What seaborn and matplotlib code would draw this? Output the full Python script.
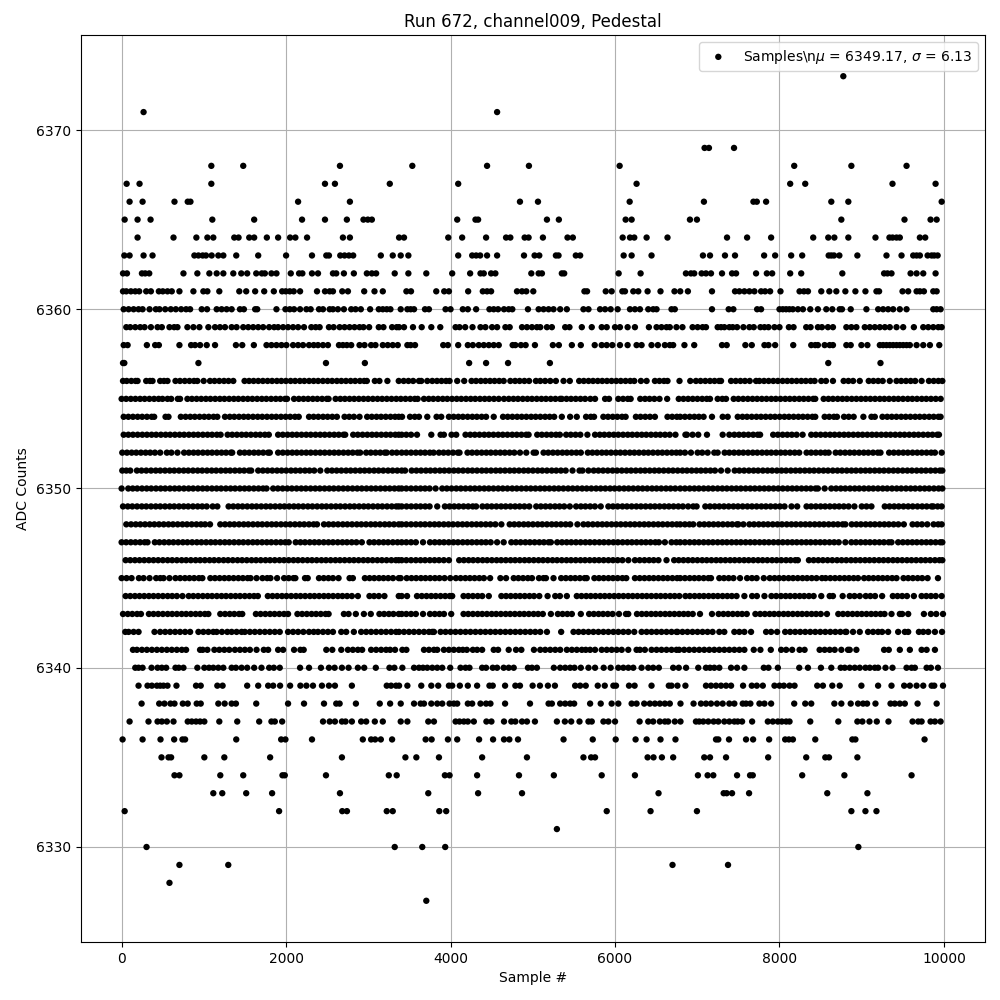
import matplotlib
matplotlib.use("Agg")
import matplotlib.pyplot as plt
import pandas as pd
import seaborn as sns

# Sample numbers, one list per ADC level.
# Inside the solid bands single samples cannot be told apart, so those lists
# hold estimated positions that reproduce the visible runs and gaps.
x_6373 = [8776]
x_6371 = [267, 4566]
x_6369 = [7089, 7142, 7447]
x_6368 = [1091, 1479, 2655, 3535, 4444, 4953, 6056, 8179, 8874, 9545]
x_6367 = [61, 218, 1091, 2473, 2594, 3261, 4093, 6262, 8130, 8313, 9374, 9898]
x_6366 = [97, 255, 643, 804, 837, 2146, 2776, 4844, 5063, 6178, 7081, 7683, 7724, 7837, 8630, 8837, 9972]
x_6365 = [37, 194, 352, 1103, 1612, 2194, 2473, 2739, 2941, 2994, 3043, 4081, 4303, 4335, 5172, 5317, 6129, 6202, 6911, 6996, 8752, 9520, 9837, 9911]
x_6364 = [194, 631, 909, 1043, 1115, 1370, 1422, 1552, 1612, 1766, 1903, 2049, 2113, 2255, 2691, 2776, 3374, 3434, 3972, 4141, 4432, 4675, 4727, 4901, 4949, 5123, 5422, 5487, 6093, 6182, 6234, 6384, 6638, 7362, 7606, 7898, 8410, 8593, 8667, 8837, 9167, 9337, 9375, 9423, 9463, 9707, 9772]
x_6363 = [33, 97, 267, 376, 885, 934, 986, 1026, 1095, 1176, 1237, 1394, 1661, 2000, 2315, 2489, 2521, 2659, 2711, 2764, 2816, 3152, 3297, 3394, 3487, 4093, 4263, 4311, 4360, 4444, 4566, 4893, 5022, 5079, 5281, 5313, 5523, 5576, 6105, 6202, 6444, 7069, 7155, 7337, 7459, 7813, 7947, 8142, 8276, 8598, 8630, 8663, 8728, 8947, 9301, 9484, 9626, 9667, 9707, 9801, 9850, 9882, 9923]
x_6362 = [17, 65, 247, 287, 336, 752, 921, 1067, 1156, 1237, 1358, 1455, 1527, 1637, 1705, 1742, 1822, 1883, 2057, 2158, 2198, 2315, 2388, 2570, 2610, 2703, 2824, 2982, 3043, 3095, 3321, 3487, 3705, 4020, 4238, 4364, 4404, 4493, 4545, 4982, 5071, 5111, 5353, 5382, 6044, 6311, 6862, 6923, 6963, 7053, 7106, 7167, 7301, 7423, 7472, 7715, 7846, 7911, 8130, 8264, 8764, 9272, 9313, 9362, 9594, 9667, 9748, 9898]
x_6361 = [17, 57, 113, 166, 214, 299, 356, 453, 501, 558, 610, 703, 873, 994, 1043, 1188, 1431, 1515, 1624, 1734, 1851, 1952, 1996, 2045, 2093, 2170, 2376, 2473, 2530, 2570, 2683, 2752, 2950, 3075, 3176, 3463, 3519, 3826, 3923, 3980, 4214, 4392, 4444, 4493, 4808, 4869, 4921, 5006, 5628, 5660, 5887, 5959, 6089, 6121, 6222, 6283, 6396, 6553, 6723, 6793, 6886, 7179, 7459, 7512, 7573, 7634, 7695, 7776, 7825, 7886, 8012, 8244, 8297, 8346, 8508, 8606, 8691, 8801, 8923, 9045, 9179, 9211, 9496, 9565, 9667, 9707, 9756, 9870, 9911]
x_6360 = [25, 85, 146, 206, 255, 340, 416, 461, 530, 598, 659, 724, 784, 833, 974, 1039, 1156, 1216, 1277, 1338, 1439, 1487, 1624, 1649, 1883, 1992, 2045, 2097, 2170, 2247, 2299, 2400, 2449, 2530, 2570, 2630, 2703, 2792, 2845, 2909, 3022, 3127, 3176, 3224, 3269, 3394, 3475, 3515, 3556, 3689, 3737, 3939, 4000, 4149, 4210, 4311, 4473, 4525, 4578, 4650, 4707, 4751, 4941, 5071, 5131, 5192, 5252, 5333, 5414, 5616, 5677, 5818, 5879, 5947, 6032, 6182, 6242, 6303, 6404, 6464, 6505, 6687, 6727, 7179, 7382, 7439, 7728, 7776, 8000, 8040, 8080, 8120, 8162, 8224, 8285, 8374, 8467, 8569, 8642, 8732, 8760, 8866, 9057, 9200, 9260, 9321, 9382, 9463, 9545, 9870, 9911, 9959]
x_6359 = [57, 105, 166, 226, 279, 356, 437, 489, 582, 639, 679, 800, 873, 946, 1055, 1136, 1196, 1257, 1338, 1398, 1479, 1540, 1600, 1661, 1721, 1794, 1855, 1903, 1964, 2024, 2085, 2146, 2218, 2307, 2360, 2408, 2521, 2578, 2651, 2711, 2772, 2832, 2893, 2941, 3010, 3127, 3184, 3289, 3345, 3374, 3434, 3543, 3649, 3766, 3875, 4061, 4109, 4178, 4267, 4364, 4424, 4505, 4566, 4667, 4719, 4869, 4929, 4990, 5050, 5091, 5172, 5232, 5394, 5446, 5596, 5717, 5838, 5899, 6000, 6060, 6153, 6242, 6412, 6505, 6565, 6626, 6666, 6747, 6820, 6943, 7004, 7065, 7106, 7248, 7289, 7330, 7390, 7431, 7484, 7561, 7634, 7687, 7768, 7817, 7866, 7939, 8000, 8114, 8171, 8325, 8378, 8467, 8516, 8589, 8650, 8813, 8874, 8935, 9037, 9098, 9159, 9220, 9281, 9341, 9423, 9504, 9634, 9748, 9809, 9870, 9931, 9972]
x_6358 = [25, 73, 307, 408, 453, 703, 845, 893, 954, 1035, 1136, 1390, 1467, 1608, 1762, 1822, 1883, 1944, 2004, 2085, 2146, 2206, 2279, 2336, 2388, 2449, 2509, 2643, 2691, 2739, 2792, 2893, 2954, 3034, 3087, 3176, 3236, 3297, 3358, 3475, 3515, 3568, 3911, 3968, 4093, 4210, 4271, 4343, 4404, 4465, 4525, 4586, 4755, 4788, 4856, 4913, 5026, 5244, 5317, 5475, 5584, 5753, 5838, 5899, 5967, 6060, 6153, 6262, 6323, 6444, 6521, 6606, 6666, 6707, 6844, 6963, 7301, 7358, 7585, 7663, 7817, 7866, 7947, 8167, 8386, 8435, 8467, 8549, 8610, 8650, 8813, 8866, 8996, 9069, 9220, 9260, 9301, 9341, 9382, 9423, 9463, 9504, 9545, 9585, 9667, 9748, 9829, 9943]
x_6357 = [17, 33, 934, 2485, 2958, 4226, 4432, 4699, 5208, 8593, 9228]
x_6356 = [17, 62, 118, 170, 194, 299, 345, 376, 469, 515, 558, 655, 710, 768, 825, 880, 921, 998, 1075, 1130, 1188, 1245, 1300, 1358, 1495, 1550, 1605, 1662, 1718, 1775, 1830, 1888, 1942, 1998, 2055, 2110, 2168, 2222, 2280, 2335, 2390, 2448, 2505, 2560, 2618, 2672, 2728, 2785, 2840, 2898, 2950, 2982, 3079, 3135, 3232, 3370, 3430, 3488, 3545, 3616, 3644, 3717, 3778, 3835, 3890, 3945, 3988, 4081, 4166, 4255, 4310, 4368, 4424, 4480, 4535, 4592, 4646, 4727, 4785, 4840, 4898, 4955, 5038, 5091, 5150, 5212, 5281, 5374, 5450, 5564, 5620, 5678, 5733, 5790, 5845, 5902, 5958, 6015, 6070, 6128, 6185, 6234, 6315, 6384, 6485, 6540, 6595, 6638, 6784, 6915, 6984, 7040, 7098, 7155, 7210, 7265, 7289, 7411, 7468, 7525, 7580, 7638, 7715, 7756, 7812, 7868, 7925, 7980, 8038, 8095, 8150, 8208, 8265, 8320, 8378, 8427, 8508, 8565, 8650, 8780, 8838, 8895, 8976, 9085, 9142, 9200, 9255, 9341, 9423, 9480, 9538, 9595, 9650, 9728, 9817, 9875, 9932, 9980]
x_6355 = [0, 55, 112, 168, 225, 280, 338, 395, 450, 497, 558, 603, 683, 711, 800, 855, 912, 968, 1025, 1080, 1138, 1195, 1250, 1308, 1365, 1420, 1478, 1534, 1590, 1648, 1705, 1760, 1818, 1875, 1930, 1988, 2012, 2097, 2155, 2212, 2268, 2325, 2380, 2438, 2495, 2517, 2602, 2660, 2715, 2772, 2828, 2885, 2942, 2998, 3055, 3112, 3168, 3225, 3282, 3340, 3395, 3452, 3510, 3565, 3600, 3677, 3735, 3790, 3848, 3905, 3960, 4018, 4075, 4130, 4188, 4245, 4300, 4358, 4415, 4470, 4528, 4586, 4650, 4708, 4765, 4820, 4878, 4935, 4990, 5048, 5105, 5160, 5218, 5275, 5333, 5353, 5410, 5465, 5522, 5580, 5636, 5700, 5757, 5879, 5927, 6040, 6098, 6155, 6190, 6307, 6365, 6420, 6478, 6541, 6634, 6775, 6832, 6889, 6945, 7002, 7060, 7115, 7155, 7248, 7305, 7350, 7443, 7500, 7558, 7615, 7672, 7728, 7785, 7842, 7900, 7955, 8012, 8070, 8125, 8182, 8240, 8295, 8352, 8410, 8435, 8537, 8595, 8650, 8708, 8765, 8820, 8878, 8935, 8992, 9048, 9105, 9162, 9220, 9275, 9332, 9390, 9445, 9502, 9560, 9615, 9672, 9730, 9785, 9842, 9900, 9960]
x_6354 = [25, 82, 138, 195, 250, 308, 365, 396, 534, 570, 720, 778, 835, 890, 948, 1005, 1060, 1118, 1164, 1257, 1315, 1370, 1428, 1485, 1540, 1598, 1655, 1710, 1768, 1825, 1880, 1938, 1995, 2050, 2108, 2154, 2279, 2335, 2392, 2450, 2505, 2562, 2618, 2711, 2768, 2825, 2893, 2986, 3042, 3100, 3155, 3212, 3270, 3325, 3370, 3410, 3507, 3565, 3616, 3717, 3830, 3887, 3980, 4038, 4095, 4150, 4208, 4265, 4320, 4378, 4432, 4525, 4638, 4695, 4752, 4810, 4865, 4922, 4980, 5035, 5092, 5150, 5205, 5260, 5353, 5454, 5535, 5648, 5705, 5745, 5858, 5915, 5972, 6028, 6085, 6129, 6254, 6310, 6368, 6425, 6485, 6638, 6695, 6752, 6793, 6850, 6908, 6965, 7020, 7077, 7179, 7309, 7370, 7492, 7550, 7605, 7662, 7720, 7775, 7832, 7890, 7945, 8002, 8060, 8115, 8172, 8230, 8285, 8342, 8400, 8435, 8549, 8605, 8662, 8699, 8785, 8842, 8902, 9020, 9118, 9159, 9252, 9310, 9365, 9422, 9480, 9535, 9592, 9650, 9705, 9762, 9820, 9875, 9932, 9959]
x_6353 = [25, 82, 138, 195, 252, 308, 365, 420, 478, 535, 590, 648, 705, 760, 818, 875, 930, 988, 1045, 1100, 1158, 1204, 1289, 1345, 1402, 1460, 1515, 1572, 1630, 1685, 1742, 1790, 1903, 1960, 2018, 2075, 2130, 2188, 2245, 2300, 2358, 2415, 2470, 2528, 2585, 2640, 2698, 2719, 2816, 2872, 2930, 2988, 3045, 3100, 3158, 3215, 3270, 3328, 3370, 3406, 3462, 3520, 3592, 3766, 3879, 3919, 4012, 4069, 4182, 4240, 4295, 4352, 4410, 4465, 4522, 4580, 4635, 4692, 4750, 4805, 4862, 4920, 4949, 5054, 5110, 5168, 5225, 5282, 5329, 5406, 5462, 5520, 5578, 5664, 5757, 5815, 5870, 5928, 5985, 6040, 6098, 6155, 6210, 6268, 6325, 6380, 6438, 6495, 6550, 6608, 6665, 6735, 6856, 6874, 6943, 7012, 7118, 7309, 7390, 7451, 7508, 7565, 7622, 7680, 7735, 7764, 7923, 7980, 8038, 8095, 8150, 8208, 8281, 8386, 8442, 8500, 8558, 8615, 8670, 8728, 8785, 8840, 8898, 8955, 9010, 9068, 9125, 9180, 9238, 9295, 9350, 9408, 9465, 9520, 9578, 9635, 9690, 9748, 9805, 9860, 9918, 9939]
x_6352 = [8, 65, 122, 178, 235, 292, 348, 405, 469, 550, 605, 679, 760, 818, 875, 930, 988, 1045, 1100, 1158, 1215, 1270, 1328, 1345, 1439, 1495, 1552, 1610, 1665, 1722, 1780, 1802, 1903, 1960, 2018, 2075, 2130, 2188, 2245, 2300, 2358, 2415, 2470, 2528, 2585, 2640, 2698, 2755, 2810, 2868, 2901, 2974, 3030, 3088, 3145, 3200, 3224, 3289, 3345, 3406, 3462, 3520, 3578, 3635, 3690, 3748, 3794, 3859, 3915, 3972, 4030, 4088, 4109, 4206, 4262, 4320, 4378, 4435, 4490, 4548, 4605, 4660, 4718, 4775, 4844, 4921, 5010, 5038, 5131, 5188, 5245, 5302, 5360, 5415, 5472, 5530, 5584, 5669, 5725, 5782, 5840, 5895, 5952, 6010, 6065, 6122, 6180, 6235, 6292, 6350, 6405, 6462, 6520, 6575, 6632, 6690, 6745, 6793, 6850, 6923, 7004, 7060, 7126, 7207, 7248, 7333, 7390, 7448, 7505, 7560, 7618, 7675, 7730, 7788, 7845, 7900, 7958, 8015, 8070, 8128, 8185, 8240, 8329, 8385, 8442, 8500, 8555, 8598, 8683, 8740, 8798, 8855, 8910, 8968, 9025, 9080, 9138, 9195, 9228, 9333, 9390, 9448, 9505, 9560, 9618, 9675, 9730, 9788, 9845, 9890, 9972]
x_6351 = [8, 57, 105, 186, 242, 300, 358, 415, 470, 528, 585, 640, 698, 755, 810, 868, 925, 980, 1038, 1095, 1150, 1208, 1265, 1320, 1378, 1435, 1490, 1548, 1576, 1661, 1718, 1775, 1832, 1890, 1945, 2002, 2060, 2115, 2172, 2230, 2285, 2342, 2416, 2501, 2558, 2615, 2672, 2730, 2785, 2842, 2900, 2955, 3012, 3070, 3125, 3182, 3240, 3295, 3352, 3406, 3447, 3527, 3585, 3642, 3700, 3755, 3812, 3870, 3925, 3982, 4040, 4095, 4152, 4210, 4265, 4322, 4380, 4435, 4492, 4550, 4605, 4662, 4720, 4775, 4832, 4890, 4945, 5002, 5060, 5115, 5172, 5230, 5285, 5342, 5400, 5483, 5568, 5604, 5677, 5741, 5798, 5855, 5912, 5970, 6025, 6082, 6140, 6195, 6252, 6310, 6365, 6422, 6480, 6535, 6592, 6650, 6705, 6762, 6820, 6875, 6932, 6990, 7045, 7102, 7160, 7215, 7289, 7370, 7455, 7512, 7570, 7628, 7685, 7740, 7798, 7855, 7910, 7968, 8025, 8080, 8138, 8195, 8250, 8308, 8365, 8420, 8478, 8535, 8590, 8648, 8705, 8760, 8818, 8875, 8930, 8988, 9045, 9100, 9158, 9215, 9270, 9328, 9385, 9440, 9498, 9555, 9610, 9668, 9725, 9780, 9838, 9895, 9950, 9980]
x_6350 = [0, 81, 135, 190, 248, 305, 360, 418, 475, 530, 588, 645, 700, 758, 815, 870, 928, 985, 1040, 1098, 1155, 1210, 1268, 1325, 1380, 1438, 1495, 1550, 1608, 1665, 1720, 1762, 1843, 1900, 1958, 2015, 2070, 2128, 2185, 2240, 2298, 2355, 2410, 2468, 2525, 2580, 2638, 2695, 2750, 2808, 2865, 2920, 2978, 3035, 3090, 3148, 3205, 3260, 3318, 3370, 3406, 3462, 3520, 3578, 3635, 3690, 3745, 3818, 3899, 3955, 4012, 4070, 4125, 4182, 4240, 4295, 4352, 4410, 4465, 4522, 4580, 4635, 4692, 4750, 4805, 4862, 4920, 4975, 5032, 5090, 5145, 5202, 5260, 5315, 5372, 5430, 5485, 5542, 5600, 5655, 5712, 5770, 5825, 5882, 5940, 5995, 6052, 6110, 6165, 6222, 6280, 6335, 6392, 6450, 6505, 6562, 6620, 6675, 6732, 6793, 6850, 6908, 6965, 7020, 7078, 7135, 7190, 7248, 7305, 7360, 7418, 7475, 7530, 7588, 7645, 7700, 7758, 7815, 7870, 7928, 7985, 8040, 8098, 8155, 8210, 8268, 8325, 8380, 8438, 8467, 8549, 8630, 8688, 8745, 8800, 8858, 8915, 8970, 9028, 9085, 9140, 9198, 9255, 9310, 9368, 9425, 9480, 9538, 9595, 9650, 9708, 9765, 9820, 9878, 9935, 9980]
x_6349 = [17, 75, 130, 188, 245, 300, 358, 415, 470, 528, 585, 640, 698, 755, 810, 868, 925, 980, 1035, 1107, 1164, 1301, 1358, 1415, 1470, 1528, 1585, 1640, 1698, 1755, 1810, 1868, 1925, 1980, 2038, 2095, 2150, 2208, 2265, 2320, 2378, 2435, 2490, 2548, 2605, 2660, 2718, 2775, 2830, 2888, 2945, 3000, 3058, 3115, 3170, 3228, 3285, 3340, 3370, 3406, 3465, 3522, 3580, 3635, 3692, 3745, 3838, 3931, 3988, 4045, 4100, 4158, 4215, 4270, 4311, 4388, 4445, 4500, 4558, 4615, 4670, 4728, 4785, 4840, 4898, 4957, 5042, 5098, 5155, 5212, 5270, 5325, 5382, 5450, 5527, 5585, 5640, 5698, 5755, 5826, 5919, 5975, 6032, 6090, 6145, 6202, 6260, 6315, 6372, 6430, 6485, 6542, 6600, 6655, 6712, 6770, 6825, 6889, 6951, 6992, 7098, 7155, 7212, 7268, 7325, 7382, 7440, 7495, 7552, 7610, 7665, 7722, 7780, 7835, 7892, 7950, 8005, 8061, 8146, 8215, 8329, 8385, 8442, 8500, 8555, 8612, 8670, 8725, 8782, 8840, 8911, 9000, 9058, 9118, 9280, 9338, 9395, 9450, 9508, 9565, 9620, 9678, 9735, 9790, 9848, 9870, 9923, 9972]
x_6348 = [57, 115, 172, 228, 285, 342, 398, 455, 512, 570, 625, 682, 740, 795, 852, 910, 965, 1015, 1075, 1200, 1258, 1315, 1370, 1428, 1485, 1540, 1598, 1655, 1710, 1768, 1825, 1880, 1938, 1995, 2050, 2108, 2165, 2220, 2278, 2335, 2376, 2461, 2518, 2575, 2632, 2690, 2745, 2802, 2860, 2915, 2972, 3030, 3085, 3142, 3200, 3255, 3312, 3370, 3406, 3462, 3520, 3578, 3635, 3690, 3748, 3805, 3860, 3918, 3975, 4030, 4088, 4145, 4200, 4258, 4315, 4370, 4428, 4485, 4545, 4618, 4719, 4775, 4832, 4890, 4945, 5002, 5060, 5115, 5172, 5230, 5285, 5342, 5400, 5455, 5543, 5616, 5672, 5730, 5788, 5845, 5900, 5958, 6015, 6070, 6128, 6185, 6240, 6298, 6355, 6410, 6468, 6525, 6580, 6638, 6695, 6750, 6793, 6850, 6905, 6951, 7028, 7085, 7142, 7198, 7255, 7312, 7370, 7425, 7482, 7500, 7561, 7634, 7690, 7748, 7805, 7860, 7918, 7975, 8030, 8088, 8145, 8200, 8258, 8315, 8370, 8428, 8485, 8540, 8598, 8655, 8710, 8768, 8801, 8878, 8935, 8990, 9048, 9105, 9160, 9218, 9275, 9330, 9388, 9445, 9512, 9618, 9675, 9732, 9797, 9874, 9930, 9972]
x_6347 = [0, 55, 112, 168, 225, 280, 315, 404, 460, 518, 575, 630, 688, 745, 800, 858, 915, 970, 1028, 1085, 1140, 1198, 1255, 1310, 1368, 1425, 1480, 1538, 1595, 1650, 1708, 1765, 1820, 1878, 1935, 1990, 2032, 2117, 2175, 2230, 2288, 2345, 2400, 2458, 2515, 2570, 2628, 2685, 2740, 2798, 2855, 2921, 3014, 3070, 3128, 3185, 3240, 3298, 3355, 3406, 3462, 3520, 3578, 3665, 3750, 3808, 3865, 3920, 3978, 4035, 4090, 4148, 4205, 4260, 4318, 4375, 4430, 4488, 4566, 4646, 4739, 4795, 4852, 4910, 4965, 5022, 5080, 5135, 5192, 5220, 5297, 5355, 5412, 5468, 5525, 5582, 5640, 5695, 5752, 5810, 5865, 5922, 5980, 6035, 6092, 6150, 6205, 6262, 6320, 6375, 6432, 6490, 6533, 6606, 6687, 6745, 6793, 6850, 6908, 6965, 7020, 7078, 7135, 7190, 7248, 7305, 7360, 7418, 7475, 7530, 7588, 7645, 7700, 7758, 7815, 7870, 7928, 7985, 8040, 8098, 8155, 8210, 8268, 8325, 8380, 8438, 8495, 8550, 8608, 8665, 8720, 8801, 8874, 8930, 8988, 9045, 9100, 9158, 9215, 9270, 9328, 9362, 9443, 9500, 9558, 9615, 9670, 9728, 9785, 9840, 9898, 9955, 9980]
x_6346 = [49, 105, 162, 218, 275, 332, 388, 445, 502, 560, 615, 672, 730, 785, 842, 900, 955, 1012, 1070, 1125, 1182, 1240, 1295, 1352, 1410, 1465, 1522, 1580, 1635, 1692, 1750, 1805, 1862, 1920, 1975, 2032, 2090, 2145, 2202, 2260, 2315, 2372, 2430, 2485, 2542, 2600, 2655, 2712, 2770, 2825, 2882, 2940, 2995, 3052, 3110, 3165, 3222, 3280, 3335, 3370, 3406, 3462, 3520, 3578, 3635, 3690, 3748, 3805, 3860, 3918, 3980, 4105, 4162, 4220, 4275, 4332, 4390, 4445, 4502, 4560, 4615, 4672, 4730, 4785, 4842, 4900, 4955, 5012, 5070, 5125, 5182, 5240, 5295, 5352, 5410, 5465, 5522, 5580, 5635, 5692, 5750, 5805, 5862, 5920, 5975, 6032, 6090, 6162, 6242, 6300, 6358, 6415, 6470, 6528, 6626, 6719, 6775, 6832, 6889, 6945, 7002, 7060, 7115, 7172, 7230, 7285, 7342, 7400, 7455, 7512, 7570, 7625, 7682, 7740, 7795, 7852, 7910, 7965, 8022, 8080, 8135, 8192, 8223, 8358, 8415, 8472, 8528, 8585, 8642, 8700, 8755, 8812, 8870, 8925, 8982, 9040, 9095, 9152, 9210, 9265, 9322, 9380, 9435, 9492, 9550, 9605, 9662, 9720, 9775, 9832, 9890, 9945, 9980]
x_6345 = [0, 60, 121, 210, 267, 340, 420, 470, 510, 582, 655, 712, 770, 825, 882, 940, 982, 1079, 1135, 1192, 1250, 1305, 1362, 1420, 1475, 1532, 1568, 1641, 1713, 1770, 1810, 1891, 1976, 2032, 2090, 2113, 2230, 2263, 2400, 2458, 2515, 2570, 2638, 2772, 2812, 2958, 3015, 3072, 3130, 3185, 3242, 3300, 3370, 3394, 3467, 3525, 3582, 3640, 3695, 3752, 3810, 3865, 3927, 3996, 4065, 4122, 4180, 4235, 4292, 4350, 4405, 4481, 4606, 4675, 4768, 4825, 4882, 4940, 4990, 5075, 5130, 5160, 5252, 5345, 5402, 5460, 5515, 5572, 5630, 5656, 5749, 5805, 5862, 5920, 5975, 6032, 6090, 6137, 6242, 6300, 6358, 6415, 6470, 6528, 6585, 6640, 6698, 6755, 6793, 6850, 6908, 6965, 7020, 7078, 7135, 7167, 7268, 7325, 7382, 7440, 7520, 7606, 7665, 7722, 7809, 7882, 7940, 7995, 8052, 8110, 8165, 8222, 8280, 8335, 8392, 8450, 8516, 8561, 8618, 8675, 8732, 8790, 8845, 8902, 8955, 9029, 9085, 9142, 9200, 9255, 9312, 9370, 9423, 9508, 9565, 9622, 9680, 9735, 9801, 9927]
x_6344 = [49, 105, 162, 218, 275, 332, 388, 445, 502, 560, 615, 672, 740, 816, 872, 930, 988, 1045, 1100, 1158, 1215, 1270, 1328, 1385, 1440, 1498, 1555, 1610, 1657, 1778, 1835, 1892, 1950, 2005, 2062, 2120, 2175, 2232, 2290, 2345, 2402, 2460, 2515, 2572, 2630, 2685, 2742, 2800, 2873, 3014, 3070, 3128, 3196, 3370, 3406, 3471, 3592, 3650, 3708, 3765, 3820, 3878, 3935, 3990, 4020, 4158, 4215, 4272, 4330, 4385, 4465, 4618, 4675, 4732, 4790, 4845, 4902, 4960, 5015, 5079, 5180, 5273, 5330, 5414, 5535, 5592, 5650, 5705, 5762, 5820, 5875, 5932, 5990, 6045, 6102, 6160, 6215, 6272, 6330, 6385, 6442, 6500, 6555, 6612, 6670, 6725, 6782, 6856, 6910, 6968, 7025, 7080, 7138, 7195, 7250, 7308, 7365, 7420, 7478, 7573, 7667, 7725, 7817, 7902, 7960, 8018, 8075, 8130, 8188, 8245, 8300, 8358, 8415, 8508, 8610, 8650, 8768, 8854, 8912, 8976, 9049, 9105, 9162, 9248, 9378, 9435, 9492, 9550, 9634, 9728, 9785, 9842, 9900, 9972]
x_6343 = [17, 75, 130, 188, 235, 332, 388, 445, 502, 560, 615, 672, 730, 785, 842, 900, 955, 1012, 1055, 1200, 1258, 1315, 1370, 1428, 1467, 1633, 1690, 1748, 1805, 1860, 1918, 1975, 2024, 2138, 2195, 2252, 2310, 2365, 2422, 2480, 2517, 2703, 2760, 2848, 2946, 3030, 3135, 3192, 3250, 3305, 3370, 3406, 3462, 3520, 3578, 3665, 3750, 3808, 3865, 3920, 4008, 4158, 4215, 4272, 4330, 4385, 4442, 4500, 4555, 4612, 4670, 4725, 4782, 4840, 4895, 4952, 5010, 5065, 5122, 5220, 5305, 5362, 5420, 5475, 5584, 5685, 5742, 5800, 5855, 5912, 5970, 6048, 6133, 6161, 6267, 6325, 6382, 6440, 6495, 6552, 6610, 6665, 6722, 6780, 6835, 6889, 6945, 7033, 7179, 7260, 7318, 7375, 7432, 7490, 7545, 7602, 7707, 7765, 7822, 7880, 7935, 7992, 8050, 8105, 8162, 8220, 8275, 8332, 8390, 8445, 8502, 8577, 8715, 8772, 8830, 8888, 8945, 9000, 9058, 9115, 9170, 9228, 9277, 9362, 9463, 9492, 9565, 9756, 9841, 9906, 9988]
x_6342 = [45, 85, 146, 206, 400, 469, 530, 590, 651, 711, 772, 833, 934, 994, 1055, 1115, 1156, 1220, 1285, 1338, 1398, 1459, 1499, 1560, 1620, 1681, 1742, 1802, 1863, 1923, 2024, 2085, 2146, 2210, 2279, 2336, 2388, 2449, 2509, 2570, 2671, 2731, 2824, 2913, 2974, 3034, 3095, 3156, 3216, 3277, 3337, 3374, 3434, 3495, 3555, 3616, 3677, 3737, 3778, 3798, 3879, 3939, 4000, 4060, 4121, 4182, 4242, 4303, 4364, 4424, 4485, 4545, 4606, 4667, 4727, 4788, 4848, 4909, 4970, 5030, 5091, 5172, 5345, 5495, 5556, 5616, 5677, 5737, 5798, 5859, 5919, 5980, 6040, 6101, 6162, 6234, 6323, 6384, 6444, 6505, 6565, 6626, 6687, 6747, 6760, 6820, 6881, 6942, 7003, 7064, 7125, 7186, 7268, 7329, 7451, 7512, 7573, 7654, 7837, 7898, 7971, 8069, 8130, 8191, 8252, 8313, 8374, 8435, 8496, 8557, 8618, 8679, 8740, 8801, 8813, 8894, 8976, 9077, 9138, 9199, 9248, 9321, 9443, 9524, 9565, 9695, 9748, 9809, 9890, 9976]
x_6341 = [138, 186, 247, 307, 368, 429, 489, 550, 610, 671, 732, 784, 954, 986, 1043, 1128, 1188, 1249, 1309, 1378, 1439, 1499, 1560, 1641, 1729, 1782, 1903, 1964, 2097, 2174, 2214, 2489, 2562, 2671, 2752, 2812, 2873, 2925, 3034, 3095, 3156, 3216, 3265, 3325, 3414, 3463, 3677, 3737, 3798, 3838, 3919, 3980, 4040, 4101, 4149, 4198, 4271, 4323, 4384, 4525, 4578, 4707, 4796, 4861, 5014, 5091, 5151, 5212, 5273, 5333, 5414, 5475, 5535, 5596, 5644, 5697, 5757, 5838, 5899, 5959, 6020, 6081, 6161, 6262, 6303, 6363, 6444, 6505, 6565, 6626, 6687, 6747, 6780, 6841, 6902, 6963, 7024, 7085, 7146, 7207, 7268, 7329, 7390, 7451, 7512, 7573, 7687, 7768, 7894, 8020, 8081, 8154, 8244, 8305, 8488, 8549, 8610, 8671, 8752, 8833, 8854, 8935, 9272, 9329, 9463, 9585, 9728, 9789, 9890]
x_6340 = [166, 206, 255, 364, 437, 489, 542, 655, 695, 752, 921, 1006, 1063, 1115, 1176, 1237, 1338, 1390, 1459, 1527, 1612, 1701, 1794, 1851, 1923, 2170, 2279, 2424, 2521, 2590, 2679, 2760, 2873, 2950, 3091, 3257, 3317, 3414, 3556, 3616, 3665, 3717, 3778, 3838, 3899, 3996, 4121, 4182, 4230, 4384, 4432, 4513, 4566, 4646, 4707, 4768, 4941, 4990, 5050, 5256, 5333, 5394, 5454, 5507, 5584, 5677, 5757, 5862, 5947, 6040, 6101, 6162, 6222, 6323, 6404, 6464, 6533, 6707, 6775, 6864, 7012, 7106, 7155, 7207, 7268, 7411, 7484, 7573, 7809, 7866, 7980, 8240, 8346, 8504, 8630, 8744, 8793, 8854, 8915, 8976, 9045, 9098, 9159, 9199, 9289, 9374, 9545, 9606, 9646, 9789, 9841, 9927]
x_6339 = [206, 315, 368, 429, 469, 509, 558, 667, 905, 962, 1164, 1228, 1527, 1661, 1782, 1843, 1927, 2049, 2174, 2247, 2327, 2436, 2521, 2594, 2800, 3224, 3277, 3337, 3374, 3475, 3644, 3766, 3850, 3980, 4020, 4113, 4210, 4323, 4473, 4513, 4663, 4788, 4844, 4998, 5087, 5184, 5269, 5515, 5576, 5644, 5790, 5875, 5980, 6012, 6170, 6238, 6444, 6654, 6687, 6759, 6856, 7106, 7167, 7228, 7289, 7350, 7411, 7557, 7663, 7724, 7797, 7939, 8000, 8053, 8122, 8183, 8459, 8528, 8642, 8732, 8996, 9199, 9362, 9516, 9585, 9667, 9748, 9850, 9882, 9988]
x_6338 = [243, 457, 521, 594, 643, 744, 804, 913, 962, 1176, 1253, 1338, 1390, 1637, 2024, 2218, 2461, 2610, 2651, 2849, 3139, 3265, 3394, 3556, 3636, 3677, 3766, 3838, 3899, 3988, 4040, 4081, 4210, 4263, 4364, 4432, 4485, 4663, 4966, 5192, 5232, 5333, 5394, 5454, 5503, 5697, 5826, 5959, 6040, 6202, 6262, 6355, 6424, 6485, 6545, 6606, 6666, 6796, 6955, 7045, 7106, 7167, 7240, 7309, 7390, 7451, 7553, 7593, 7646, 7756, 7817, 7898, 8179, 8313, 8386, 8667, 8752, 8866, 8955, 9016, 9065, 9167, 9350, 9402, 9463, 9524, 9679, 9911]
x_6337 = [97, 327, 437, 489, 550, 631, 804, 853, 905, 954, 1006, 1188, 1406, 1673, 1822, 1863, 1952, 2449, 2530, 2594, 2679, 2723, 2800, 2913, 2974, 3079, 3176, 3394, 3475, 3729, 3798, 4061, 4109, 4162, 4210, 4283, 4436, 4497, 4650, 4739, 4788, 4869, 4929, 5026, 5293, 5390, 5467, 5568, 5677, 5717, 5859, 5919, 6000, 6299, 6404, 6464, 6545, 6606, 6646, 6727, 6796, 6984, 7024, 7073, 7134, 7199, 7256, 7329, 7390, 7451, 7492, 7545, 7667, 7858, 7919, 7980, 8028, 8081, 8122, 8374, 8715, 8947, 9008, 9094, 9183, 9325, 9618, 9687, 9728, 9837, 9890, 9959]
x_6336 = [12, 255, 473, 639, 740, 772, 1394, 1940, 1992, 2315, 2933, 3034, 3083, 3152, 3289, 3697, 3770, 3968, 4081, 4347, 4517, 4650, 4715, 4820, 5374, 5729, 6008, 6250, 6384, 6553, 6735, 7228, 7256, 7386, 7593, 7679, 7874, 8069, 8114, 8163, 8435, 8886, 8923, 9764]
x_6335 = [485, 570, 602, 1006, 1249, 1806, 2679, 3451, 3584, 3859, 4384, 4929, 5616, 5709, 5757, 6396, 6468, 6570, 6707, 7085, 7155, 7350, 7862, 8325, 8557, 8602, 8947]
x_6334 = [643, 703, 1200, 1479, 1956, 1984, 2485, 3249, 3345, 3931, 3988, 4323, 4832, 5256, 5838, 6242, 7008, 7126, 7195, 7484, 7642, 7675, 8276, 8789, 9606]
x_6333 = [1115, 1224, 1515, 1830, 2655, 3729, 4335, 4869, 6529, 7321, 7358, 7423, 7630, 8581, 9069]
x_6332 = [37, 1915, 2683, 2740, 3224, 3297, 3863, 3947, 5899, 6432, 6996, 8874, 9045, 9179]
x_6331 = [5293]
x_6330 = [303, 3321, 3656, 3935, 8959]
x_6329 = [703, 1297, 6699, 7374]
x_6328 = [582]
x_6327 = [3705]

levels = [6373, 6371, 6369, 6368, 6367, 6366, 6365, 6364, 6363, 6362, 6361, 6360, 6359,
          6358, 6357, 6356, 6355, 6354, 6353, 6352, 6351, 6350, 6349, 6348, 6347, 6346,
          6345, 6344, 6343, 6342, 6341, 6340, 6339, 6338, 6337, 6336, 6335, 6334, 6333,
          6332, 6331, 6330, 6329, 6328, 6327]
samples = [x_6373, x_6371, x_6369, x_6368, x_6367, x_6366, x_6365, x_6364, x_6363, x_6362, x_6361, x_6360, x_6359,
           x_6358, x_6357, x_6356, x_6355, x_6354, x_6353, x_6352, x_6351, x_6350, x_6349, x_6348, x_6347, x_6346,
           x_6345, x_6344, x_6343, x_6342, x_6341, x_6340, x_6339, x_6338, x_6337, x_6336, x_6335, x_6334, x_6333,
           x_6332, x_6331, x_6330, x_6329, x_6328, x_6327]

title = "Run 672, channel009, Pedestal"
series_label = "Samples\\n$\\mu$ = 6349.17, $\\sigma$ = 6.13"
x_label = "Sample #"
y_label = "ADC Counts"

df = pd.DataFrame(
    [(s, lvl) for lvl, xs in zip(levels, samples) for s in xs],
    columns=["sample", "adc"],
)

sns.set_theme(style="ticks", rc={"axes.grid": True, "grid.color": "#b0b0b0", "grid.linewidth": 0.8,
                                 "axes.edgecolor": "black", "axes.linewidth": 0.8,
                                 "text.color": "black", "axes.labelcolor": "black",
                                 "xtick.color": "black", "ytick.color": "black",
                                 "xtick.major.size": 3.5, "ytick.major.size": 3.5,
                                 "xtick.major.width": 0.8, "ytick.major.width": 0.8,
                                 "font.size": 10, "axes.labelsize": 10, "axes.titlesize": 12,
                                 "xtick.labelsize": 10, "ytick.labelsize": 10, "legend.fontsize": 10})
plt.rcParams["font.family"] = ["DejaVu Sans"]

fig, ax = plt.subplots(figsize=(10, 10), dpi=100)
fig.subplots_adjust(left=0.0805, right=0.985, top=0.965, bottom=0.058)
sns.scatterplot(data=df, x="sample", y="adc", ax=ax, color="black", marker=".", s=84,
                edgecolor="none", linewidth=0, label=series_label, zorder=3)
ax.set_xlim(-499.95, 10498.95)
ax.set_ylim(6324.7, 6375.3)
ax.set_title(title)
ax.set_xlabel(x_label)
ax.set_ylabel(y_label)
ax.legend(loc="upper right", framealpha=0.8, edgecolor="0.8", fancybox=True, scatterpoints=1)
fig.savefig("out.png", dpi=100)
